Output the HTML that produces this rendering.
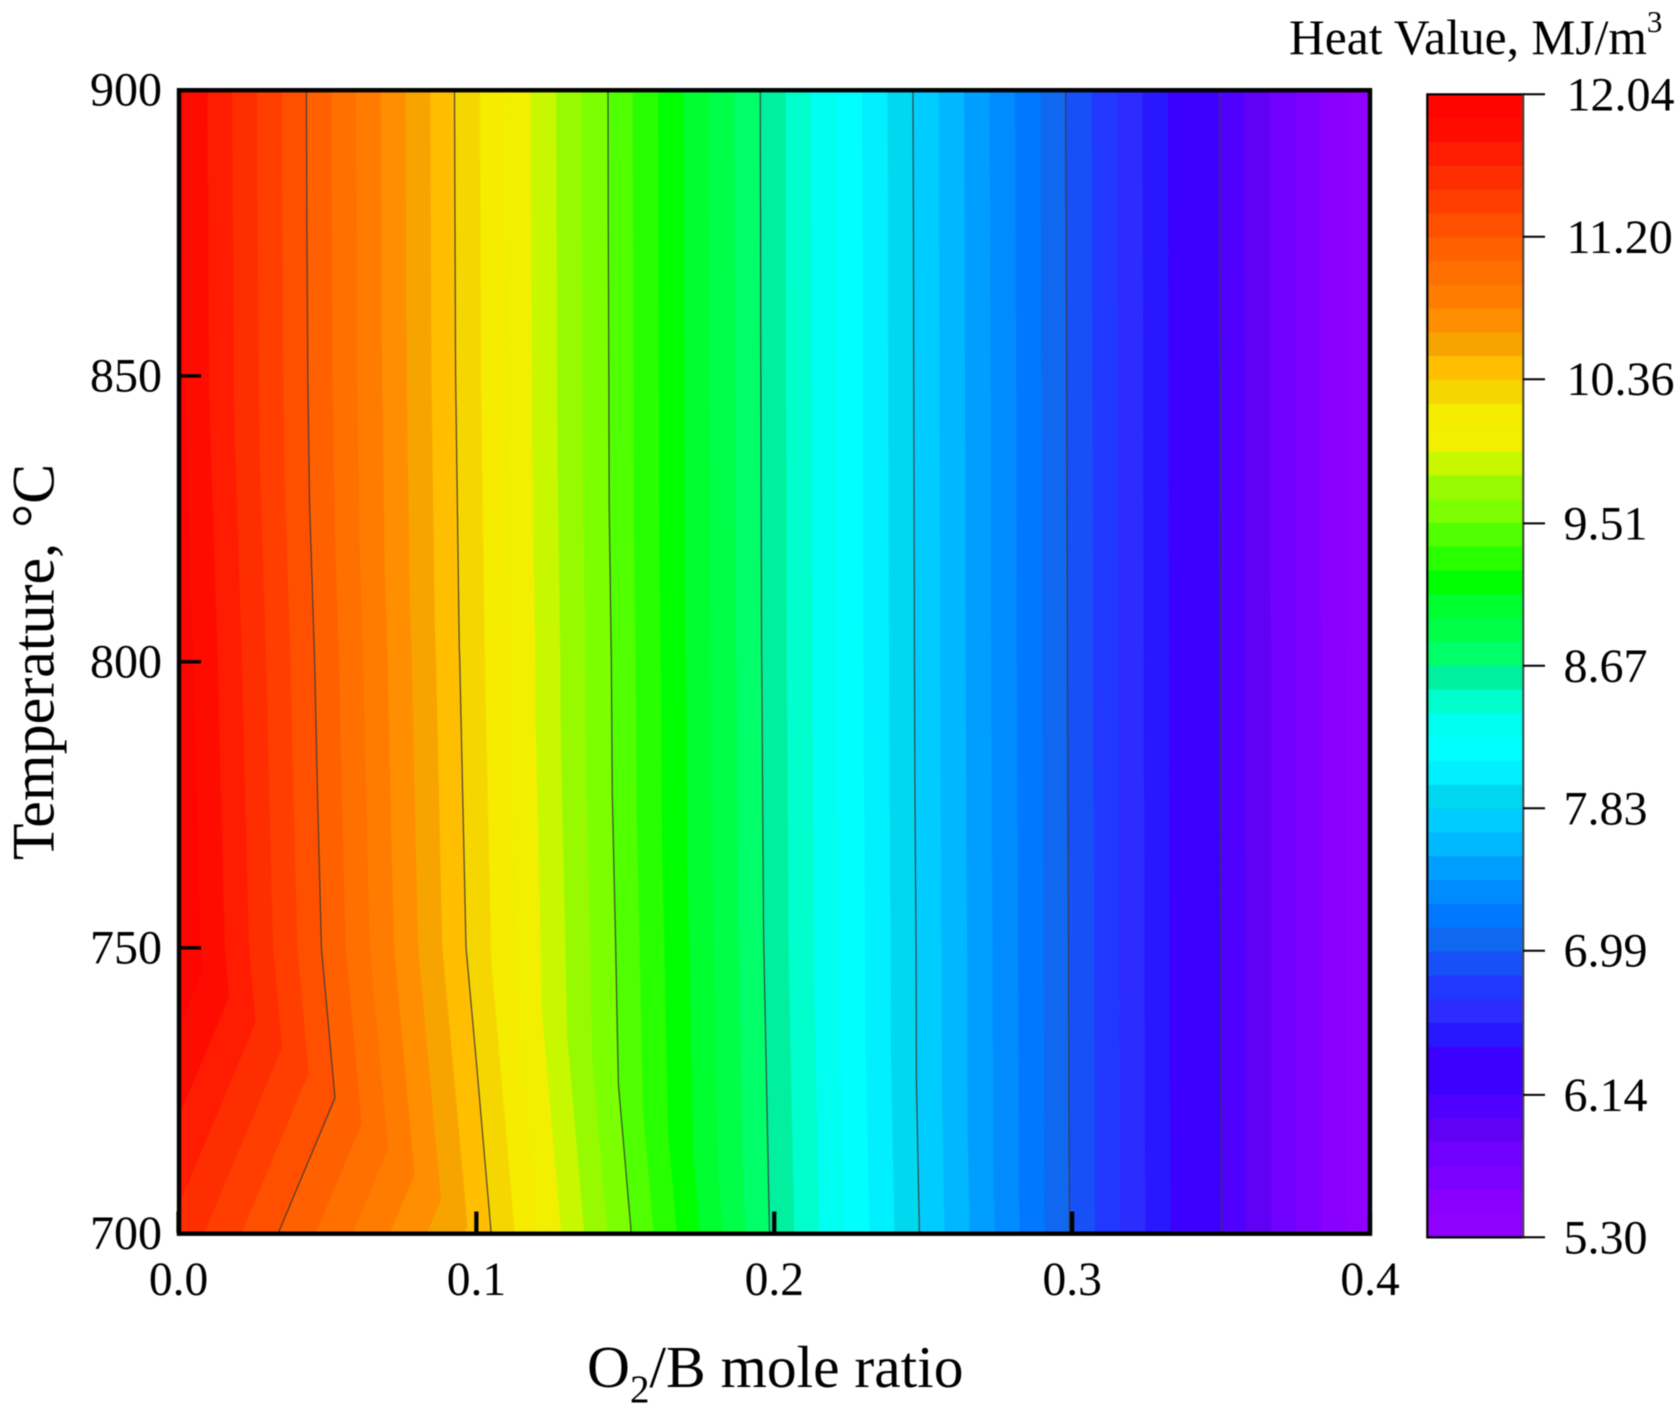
<!DOCTYPE html>
<html lang="en">
<head>
<meta charset="utf-8">
<title>Heat Value Contour</title>
<style>
html,body{margin:0;padding:0;background:#fff;width:1679px;height:1417px;overflow:hidden}
svg{display:block;filter:blur(0.4px)}
text{font-family:"Liberation Serif",serif;fill:#000}
</style>
</head>
<body>
<svg id="chart" xmlns="http://www.w3.org/2000/svg" width="1679" height="1417" viewBox="0 0 1679 1417">
  <rect x="0" y="0" width="1679" height="1417" fill="#fff"/>
  <g id="bands"></g>
  <g id="lines"></g>
  <rect x="179" y="90.2" width="1191" height="1143.5" fill="none" stroke="#000" stroke-width="4.4"/>
  <g id="xticks"></g>
  <g id="yticks"></g>
  <text x="587" y="1387" font-size="59.5">O<tspan font-size="39" dy="15">2</tspan><tspan dy="-15">/B mole ratio</tspan></text>
  <text transform="translate(53.5,662) rotate(-90)" text-anchor="middle" font-size="60">Temperature, °C</text>
  <text x="1289" y="54" font-size="49.5">Heat Value, MJ/m<tspan font-size="31" dy="-22">3</tspan></text>
  <g id="colorbar"></g>
</svg>
<script>
// Chart data
const ratios = [0, 0.1, 0.2, 0.3, 0.4];
const temperatures = [700, 750, 800, 850, 900];
const heatAt700 = [11.576, 10.45, 8.643, 6.975, 5.31];
const heatAt750 = [12.03, 10.30, 8.611, 6.97, 5.31];
const heatAt800 = [11.988, 10.264, 8.60, 6.964, 5.31];
const heatAt850 = [11.935, 10.242, 8.596, 6.96, 5.31];
const heatAt900 = [11.925, 10.236, 8.593, 6.954, 5.31];
const heatRows = [heatAt700, heatAt750, heatAt800, heatAt850, heatAt900];
const colorbarTicks = ["12.04", "11.20", "10.36", "9.51", "8.67", "7.83", "6.99", "6.14", "5.30"];
const xTickLabels = ["0.0", "0.1", "0.2", "0.3", "0.4"];
const yTickLabels = ["700", "750", "800", "850", "900"];
const bandColors = [
  "#ff0500","#ff0c00","#ff1c00","#ff2e00","#ff3e00","#ff5000",
  "#ff6000","#ff7000","#ff7c00","#ff8e00","#f7a400","#ffbe00",
  "#f6d600","#f5ec00","#f2f000","#c8f800","#98fa00","#7cff00",
  "#50ff00","#28ff00","#00ff00","#00ff30","#00ff48","#00ff68",
  "#00f0a0","#00ffcc","#00fff0","#00ffff","#00f0ff","#00d8f0",
  "#00ccff","#00b8ff","#009eff","#008cff","#0078ff","#1068f0",
  "#1850f8","#2038ff","#2c2cff","#2818ff","#3c00ff","#3c00ff",
  "#5000ff","#6000f4","#7000ff","#7c00ff","#8a00ff","#9000ff"
];

// Axis functions
const SVGNS = "http://www.w3.org/2000/svg";
const xScale = r => 178.5 + (r - ratios[0]) / (ratios[ratios.length - 1] - ratios[0]) * 1191.5;
const yScale = t => 1233.7 - (t - temperatures[0]) / (temperatures[temperatures.length - 1] - temperatures[0]) * 1143.7;
const zMax = parseFloat(colorbarTicks[0]);
const zMin = parseFloat(colorbarTicks[colorbarTicks.length - 1]);
const zScale = z => 94.3 + (zMax - z) / (zMax - zMin) * 1143;
const bandStep = (zMax - zMin) / bandColors.length;

function make(tag, attrs, parent) {
  const el = document.createElementNS(SVGNS, tag);
  for (const k in attrs) el.setAttribute(k, attrs[k]);
  parent.appendChild(el);
  return el;
}

// Triangulate the grid: each cell is split along its top-left to bottom-right diagonal
const triangles = [];
for (let j = 0; j < temperatures.length - 1; j++) {
  for (let i = 0; i < ratios.length - 1; i++) {
    const node = (a, b) => ({ x: xScale(ratios[a]), y: yScale(temperatures[b]), z: heatRows[b][a] });
    triangles.push([node(i, j), node(i + 1, j), node(i, j + 1)]);
    triangles.push([node(i + 1, j), node(i + 1, j + 1), node(i, j + 1)]);
  }
}

function lerpPoint(a, b, level) {
  const t = (level - a.z) / (b.z - a.z);
  return { x: a.x + (b.x - a.x) * t, y: a.y + (b.y - a.y) * t, z: level };
}
function clip(poly, level, keepBelow) {
  const out = [];
  for (let i = 0; i < poly.length; i++) {
    const a = poly[i], b = poly[(i + 1) % poly.length];
    const inA = keepBelow ? a.z <= level : a.z >= level;
    const inB = keepBelow ? b.z <= level : b.z >= level;
    if (inA) out.push(a);
    if (inA !== inB) out.push(lerpPoint(a, b, level));
  }
  return out;
}
function polyPath(poly) {
  return "M" + poly.map(p => p.x.toFixed(2) + " " + p.y.toFixed(2)).join("L") + "Z";
}

// Filled contour bands
const bandsGroup = document.getElementById("bands");
bandColors.forEach((color, b) => {
  const hi = zMax - b * bandStep;
  const lo = zMax - (b + 1) * bandStep;
  let d = "";
  triangles.forEach(tri => {
    let poly = clip(tri, hi, true);
    if (poly.length) poly = clip(poly, lo, false);
    if (poly.length > 2) d += polyPath(poly);
  });
  if (d) {
    const band = make("path", { d: d, fill: color, stroke: color, "stroke-width": "0.7" }, bandsGroup);
    
    
  }
});

// Contour lines at each interior colorbar tick
const linesGroup = document.getElementById("lines");
colorbarTicks.slice(1, -1).forEach(label => {
  const level = parseFloat(label);
  let d = "";
  triangles.forEach(tri => {
    const pts = [];
    for (let i = 0; i < 3; i++) {
      const a = tri[i], b = tri[(i + 1) % 3];
      if ((a.z - level) * (b.z - level) < 0) pts.push(lerpPoint(a, b, level));
    }
    if (pts.length === 2) d += "M" + pts[0].x.toFixed(2) + " " + pts[0].y.toFixed(2) + "L" + pts[1].x.toFixed(2) + " " + pts[1].y.toFixed(2);
  });
  const line = make("path", { d: d, fill: "none", stroke: "#3a3a3a", "stroke-width": "1.1" }, linesGroup);
  
  
});

// X axis ticks and labels
const xGroup = document.getElementById("xticks");
xTickLabels.forEach(label => {
  const x = xScale(parseFloat(label));
  const tick = make("line", { x1: x, x2: x, y1: 1233, y2: 1211.5, stroke: "#000", "stroke-width": "4.2" }, xGroup);
  
  
  const text = make("text", { x: x, y: 1295, "text-anchor": "middle", "font-size": "47.5" }, xGroup);
  text.textContent = label;
  
  
});

// Y axis ticks and labels
const yGroup = document.getElementById("yticks");
yTickLabels.forEach(label => {
  const y = yScale(parseFloat(label));
  const tick = make("line", { x1: 179, x2: 201, y1: y, y2: y, stroke: "#000", "stroke-width": "3.4" }, yGroup);
  
  
  const text = make("text", { x: 162, y: y + 15.5, "text-anchor": "end", "font-size": "48" }, yGroup);
  text.textContent = label;
  
  
});

// Colorbar
const cbGroup = document.getElementById("colorbar");
bandColors.forEach((color, b) => {
  const top = zScale(zMax - b * bandStep);
  const bottom = zScale(zMax - (b + 1) * bandStep);
  const rect = make("rect", { x: 1427.5, y: top, width: 95.5, height: bottom - top + 0.4, fill: color }, cbGroup);
  
  
});
const cbFrame = make("path", { d: "M1523 94.3H1427.3V1237.4H1523", fill: "none", stroke: "#000", "stroke-width": "2.2" }, cbGroup);


const cbRight = make("line", { x1: 1523.3, x2: 1523.3, y1: 93.2, y2: 1238.5, stroke: "#444", "stroke-width": "2" }, cbGroup);


colorbarTicks.forEach(label => {
  const y = zScale(parseFloat(label));
  const tick = make("line", { x1: 1523, x2: 1545, y1: y, y2: y, stroke: "#000", "stroke-width": "2" }, cbGroup);
  
  
  const text = make("text", { x: label.length > 4 ? 1566.5 : 1563.5, y: y + 16, "font-size": "48" }, cbGroup);
  text.textContent = label;
  
  
});
</script>
</body>
</html>
